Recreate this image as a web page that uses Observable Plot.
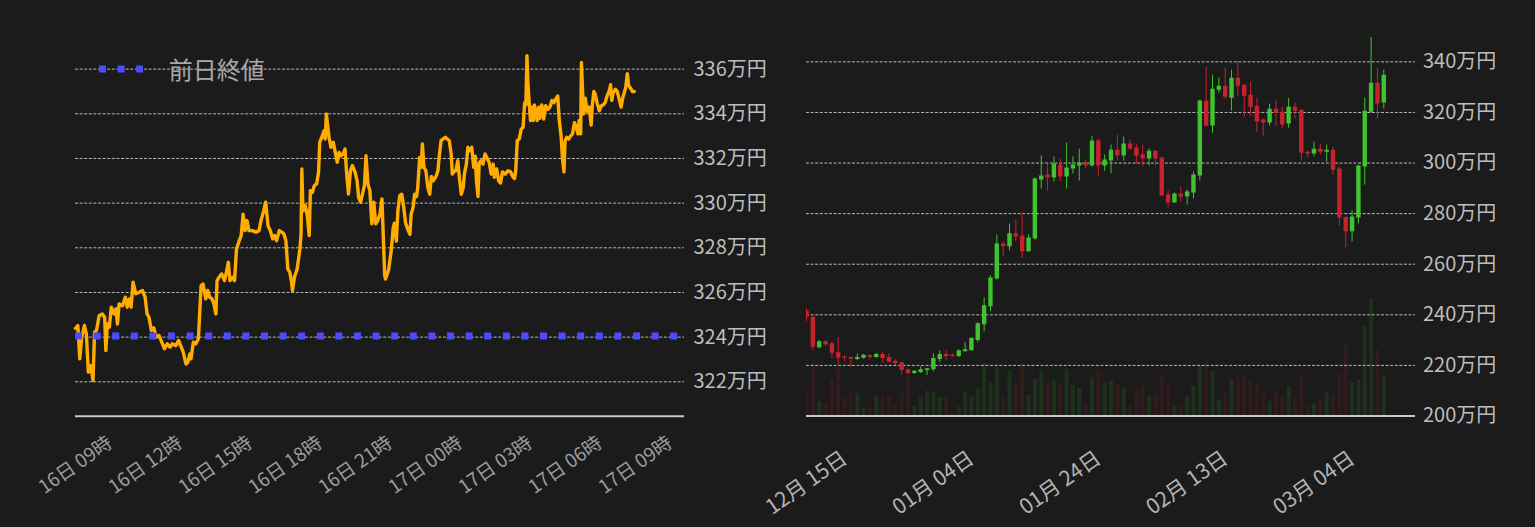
<!DOCTYPE html>
<html>
<head>
<meta charset="utf-8">
<script src="https://cdn.jsdelivr.net/npm/d3@7"></script>
<script src="https://cdn.jsdelivr.net/npm/@observablehq/plot@0.6"></script>
<style>
html, body { margin: 0; padding: 0; background: #1b1b1b; }
#wrap { position: relative; width: 1535px; height: 527px; overflow: hidden; font-family: "Noto Sans CJK JP", "Noto Sans", sans-serif; }
#left, #right { position: absolute; top: 0; }
#left { left: 0; }
#right { left: 780px; }
#legend { position: absolute; left: 98.7px; top: 54px; height: 30px; display: flex; align-items: center; }
#legend span { margin-left: 26px; font-size: 24px; color: #a8a8a8; line-height: 30px; }
</style>
</head>
<body>
<div id="wrap">
  <div id="left"></div>
  <div id="right"></div>
  <div id="legend"><svg width="44" height="10"><line x1="0" x2="44" y1="5" y2="5" stroke="#4c4cff" stroke-width="7" stroke-dasharray="7,11.6"></line></svg><span>前日終値</span></div>
</div>
<script>
// ---------- Left chart: intraday price (万円) ----------
const intradayStart = Date.UTC(2024, 2, 16, 9, 0);
const intradayMinutes = [
  0,3,6,11,16,23,28,33,39,45,
  49,54,61,69,75,78,82,87,92,99,
  104,108,112,121,128,133,138,143,148,155,
  164,172,179,184,189,195,201,208,215,222,
  229,236,243,249,258,265,272,277,284,289,
  294,297,303,309,316,323,328,335,340,345,
  351,356,361,364,369,376,383,388,393,397,
  404,409,414,421,426,431,436,441,446,455,
  464,472,477,484,489,495,501,507,512,517,
  524,531,536,541,546,551,555,558,563,570,
  577,580,582,585,591,596,601,604,609,614,
  620,625,628,633,639,642,645,649,652,657,
  663,668,673,678,683,688,693,698,702,707,
  712,719,724,728,733,738,743,747,752,757,
  762,767,772,777,783,788,
  795,797,805,812,817,820,825,829,834,839,
  844,849,855,860,863,868,872,877,880,885,
  889,892,896,901,906,911,915,920,927,932,
  935,940,945,951,956,961,966,969,973,978,
  983,988,992,997,1000,1005,1009,1014,1019,1024,
  1028,1031,1035,1038,1043,1048,1053,1059,1064,1069,
  1074,1077,1083,1088,1093,1098,1105,1112,1119,1124,
  1129,1132,1136,1141,1146,1151,1155,1158,1161,1163,
  1167,1170,1173,1177,1180,1184,1187,1191,1194,1199,
  1204,1209,1215,1220,1225,1230,1235,1240,1244,1249,
  1252,1256,1259,1263,1268,1273,1278,1283,1288,1292,
  1295,1299,1301,1304,1307,1311,1314,1317,1321,1326,
  1329,1333,1336,1341,1347,1352,1357,1362,1367,1372,
  1376,1379,1382,1388,1393,1398,1403,1407,1412,1415,
  1419,1422,1425,1429,1432,1437
];
const intradayPrice = [
  324.4,324.45,324.52,323.03,324.0,324.52,324.15,322.43,322.73,322.06,
  324.22,324.3,324.97,325.04,324.89,323.4,324.59,324.45,325.34,325.04,
  325.27,324.59,325.49,325.41,325.79,325.34,325.71,325.34,326.46,325.94,
  326.01,326.09,325.79,325.04,324.89,324.3,324.42,324.0,324.07,323.77,
  323.48,323.7,323.55,323.7,323.62,323.85,323.55,323.33,322.8,322.88,
  323.25,323.03,323.77,323.7,323.92,326.31,326.38,325.71,326.09,325.79,
  325.71,325.49,325.04,326.53,326.68,326.83,326.53,326.91,327.35,326.53,
  326.68,326.53,327.95,328.32,328.55,329.51,328.77,329.22,328.77,328.77,
  328.7,328.77,329.22,329.66,330.04,328.99,328.77,328.4,328.55,328.32,
  328.77,328.7,328.62,328.32,327.05,326.91,326.53,326.09,326.68,327.05,
  327.95,328.62,331.53,329.66,329.89,329.44,328.55,330.56,330.48,330.78,
  330.86,331.38,332.72,332.94,333.24,332.87,333.99,333.39,332.94,332.5,
  332.72,332.27,331.83,332.27,332.12,332.2,332.42,331.15,330.41,331.45,
  331.68,331.38,331.01,330.26,330.04,330.41,330.78,332.12,330.86,330.56,
  329.07,330.04,329.07,329.22,329.51,330.19,
  326.8,326.6,327.0,327.9,328.9,329.1,328.3,329.67,330.34,330.4,
  329.8,329.1,328.8,328.6,329.5,329.8,330.4,330.3,330.7,332.05,
  331.6,332.65,331.6,331.45,330.7,330.4,331.2,331.0,331.2,331.45,
  332.05,332.8,332.87,332.95,332.87,332.8,332.2,331.3,331.4,331.45,
  331.9,331.0,330.4,330.7,331.3,331.75,332.5,332.35,332.5,331.6,
  332.1,331.0,330.3,331.8,331.9,331.75,332.2,332.0,331.8,331.3,
  331.75,331.16,331.53,331.0,330.9,331.4,331.3,331.45,331.4,331.2,
  331.1,331.45,332.8,332.87,333.3,333.4,334.5,334.4,336.6,335.5,
  334.4,333.7,334.3,333.7,334.4,334.1,333.7,334.3,333.8,334.4,
  333.77,334.36,334.2,334.3,334.6,334.5,334.66,334.8,333.7,332.95,
  332.05,331.4,332.8,332.95,332.87,333.0,333.1,333.6,333.4,333.1,
  333.7,333.1,336.3,335.0,334.0,334.7,334.3,334.1,334.3,333.5,
  334.4,335.0,334.9,334.5,334.14,334.36,334.4,334.5,334.8,335.0,
  335.3,334.6,334.9,335.1,335.0,334.66,334.3,334.7,335.0,335.2,
  335.8,335.3,335.2,335.1,335.0,335.0
];
const previousClose = 324.05;
const leftYTicks = [322, 324, 326, 328, 330, 332, 334, 336];
const leftXTickHours = [0, 3, 6, 9, 12, 15, 18, 21, 24];
const leftXTickLabels = ["16日 09時","16日 12時","16日 15時","16日 18時","16日 21時","17日 00時","17日 03時","17日 06時","17日 09時"];
const leftYDomain = [320.46, 337.73];
const leftXSpanHours = 26.1;

// ---------- Right chart: daily candles (万円) and volume ----------
const candleDates = [
  "2023-12-15","2023-12-16","2023-12-17","2023-12-18","2023-12-19","2023-12-20","2023-12-21","2023-12-22","2023-12-23","2023-12-24",
  "2023-12-25","2023-12-26","2023-12-27","2023-12-28","2023-12-29","2023-12-30","2023-12-31","2024-01-01","2024-01-02","2024-01-03",
  "2024-01-04","2024-01-05","2024-01-06","2024-01-07","2024-01-08","2024-01-09","2024-01-10","2024-01-11","2024-01-12","2024-01-13",
  "2024-01-14","2024-01-15","2024-01-16","2024-01-17","2024-01-18","2024-01-19","2024-01-20","2024-01-21","2024-01-22","2024-01-23",
  "2024-01-24","2024-01-25","2024-01-26","2024-01-27","2024-01-28","2024-01-29","2024-01-30","2024-01-31","2024-02-01","2024-02-02",
  "2024-02-03","2024-02-04","2024-02-05","2024-02-06","2024-02-07","2024-02-08","2024-02-09","2024-02-10","2024-02-11","2024-02-12",
  "2024-02-13","2024-02-14","2024-02-15","2024-02-16","2024-02-17","2024-02-18","2024-02-19","2024-02-20","2024-02-21","2024-02-22",
  "2024-02-23","2024-02-24","2024-02-25","2024-02-26","2024-02-27","2024-02-28","2024-02-29","2024-03-01","2024-03-02","2024-03-03",
  "2024-03-04","2024-03-05","2024-03-06","2024-03-07","2024-03-08","2024-03-09","2024-03-10","2024-03-11","2024-03-12","2024-03-13",
  "2024-03-14","2024-03-15"
];
const candleOpen = [
  241.5,238.9,227.0,229.4,228.6,225.0,223.3,223.1,222.3,222.8,
  223.9,223.1,224.3,223.1,221.6,221.1,218.3,216.8,217.2,218.0,
  218.3,222.3,224.3,224.0,223.5,225.4,225.8,229.8,236.1,243.2,
  254.2,268.0,266.9,272.0,271.2,264.9,270.0,293.3,295.3,294.1,
  299.2,294.5,297.6,298.8,300.0,298.8,308.7,298.8,300.8,305.1,
  302.8,307.5,305.9,303.2,301.6,304.7,302.0,287.4,284.2,287.8,
  286.6,288.2,294.9,324.5,314.6,328.8,330.4,325.6,333.5,330.8,
  326.8,322.5,317.0,315.8,321.3,320.1,315.4,322.1,320.9,304.3,
  303.6,305.5,304.3,305.1,297.6,278.5,272.8,278.3,298.4,320.1,
  331.5,323.7
];
const candleHigh = [
  242.4,239.9,229.8,229.8,229.1,231.0,223.9,223.2,224.5,224.3,
  224.0,224.8,225.0,224.6,222.3,221.2,218.4,217.9,219.5,218.8,
  224.6,225.8,225.8,224.6,226.2,229.0,231.0,236.9,246.7,255.4,
  271.6,268.8,275.9,277.5,280.3,271.6,294.1,302.8,299.5,302.4,
  301.6,307.9,302.4,305.5,301.2,310.6,309.5,303.2,307.1,311.0,
  310.3,309.1,307.5,307.1,305.5,304.8,302.4,289.0,288.2,290.5,
  289.4,296.5,324.9,337.9,334.7,333.5,337.5,336.7,340.2,330.9,
  332.0,325.6,317.4,323.3,324.9,322.1,325.6,323.7,321.0,304.7,
  308.3,307.5,307.1,306.3,298.4,278.7,281.1,299.2,325.6,349.7,
  337.5,336.7
];
const candleLow = [
  237.4,225.8,226.6,227.5,222.8,220.3,221.5,219.1,221.9,222.5,
  222.3,222.8,220.7,221.0,220.0,216.0,216.4,216.4,216.8,216.0,
  217.6,221.1,221.9,223.1,223.1,225.3,225.7,229.0,233.3,241.2,
  253.8,262.9,265.3,268.8,262.3,264.8,269.5,289.7,289.0,292.5,
  292.5,289.7,295.7,292.9,297.6,298.4,294.9,296.8,295.7,300.8,
  300.8,305.1,299.6,298.4,298.8,298.8,286.6,282.3,284.1,284.6,
  283.4,285.8,292.9,314.2,311.8,327.6,325.2,320.5,326.4,318.1,
  318.5,312.2,310.6,314.6,314.6,313.4,313.8,317.4,300.8,302.0,
  302.4,303.2,300.4,295.3,275.1,266.5,268.8,275.9,291.3,319.7,
  317.4,321.3
];
const candleClose = [
  239.0,227.2,229.4,228.2,224.8,222.8,222.9,222.4,223.1,224.0,
  223.1,224.3,222.7,221.2,220.7,218.0,216.8,217.7,218.3,218.7,
  222.7,224.3,223.5,223.5,225.8,226.2,230.6,236.5,243.6,254.6,
  268.0,266.9,272.0,270.8,264.9,270.4,293.7,294.9,294.1,299.5,
  294.5,298.0,299.2,300.0,298.8,308.7,298.8,301.2,305.1,302.8,
  307.5,305.5,302.8,301.6,304.7,301.6,287.0,284.2,287.8,286.6,
  288.6,295.3,324.5,314.6,329.2,330.4,326.0,333.5,330.4,326.4,
  322.1,316.2,315.8,321.3,319.7,315.0,322.1,320.5,303.9,303.6,
  305.5,304.3,305.1,297.2,278.3,272.8,278.7,298.8,320.5,331.5,
  323.3,334.7
];
const candleVolume = [
  25.5,54.5,14.5,13.5,35.5,48.5,17.5,24.5,22.5,7.5,
  8.5,19.5,19.5,20.5,10.5,22.5,42.5,9.5,18.5,24.5,
  23.5,18.5,20.5,3.5,8.5,23.5,19.5,27.5,52.5,32.5,
  48.5,18.5,44.5,32.5,52.5,20.5,36.5,43.5,33.5,35.5,
  31.5,46.5,30.5,27.5,10.5,38.5,45.5,32.5,34.5,31.5,
  28.5,9.5,27.5,29.5,20.5,21.5,39.5,29.5,10.5,10.5,
  19.5,29.5,50.5,54.5,44.5,15.5,22.5,36.5,38.5,38.5,
  35.5,31.5,21.5,14.5,23.5,20.5,29.5,17.5,39.5,9.5,
  11.5,16.5,23.5,21.5,41.5,70.5,33.5,35.5,89.5,117.5,
  65.5,40.5
];
const rightYTicks = [200, 220, 240, 260, 280, 300, 320, 340];
const rightXTickDates = ["2023-12-15","2024-01-04","2024-01-24","2024-02-13","2024-03-04"];
const rightXTickLabels = ["12月 15日","01月 04日","01月 24日","02月 13日","03月 04日"];
const rightXDomain = ["2023-12-15", "2024-03-20"];
const rightYDomain = [200, 352.4];
const volumeBandHeight = 46.4; // price units taken by the largest volume bar

// ---------- build ----------
const FONT = '"Noto Sans CJK JP", "Noto Sans", sans-serif';
const GREEN = "#3fc42f", RED = "#c9212d";
const GRID = {stroke: "#b8b8b8", strokeWidth: 1, strokeDasharray: "3,1.6"};

const intraday = intradayMinutes.map((m, i) => ({t: new Date(intradayStart + m * 60000), v: intradayPrice[i]}));
const leftTicks = leftXTickHours.map((h, i) => ({t: new Date(intradayStart + h * 3600000), label: leftXTickLabels[i]}));

const left = Plot.plot({
  width: 780, height: 527,
  marginLeft: 75, marginRight: 96, marginTop: 30, marginBottom: 111.3,
  style: {background: "transparent", fontFamily: FONT, overflow: "visible"},
  x: {type: "utc", domain: [new Date(intradayStart), new Date(intradayStart + leftXSpanHours * 3600000)], axis: null},
  y: {domain: leftYDomain, axis: null},
  marks: [
    Plot.ruleY(leftYTicks, GRID),
    Plot.line(intraday, {x: "t", y: "v", stroke: "#ffab00", strokeWidth: 3.4, strokeLinejoin: "round"}),
    Plot.ruleY([previousClose], {stroke: "#4c4cff", strokeWidth: 7, strokeDasharray: "7,11.6"}),
    Plot.ruleY([leftYDomain[0]], {stroke: "#c8c8c8", strokeWidth: 2}),
    Plot.text(leftTicks, {x: "t", text: "label", frameAnchor: "bottom", dy: 49, rotate: -35,
      textAnchor: "middle", lineAnchor: "middle", fill: "#9c9c9c", fontSize: 19}),
    Plot.text(leftYTicks, {y: d => d, text: d => d + "万円", frameAnchor: "right", dx: 9,
      textAnchor: "start", fill: "#bdbdbd", fontSize: 20})
  ]
});
document.getElementById("left").append(left);

const parseDay = s => new Date(s + "T00:00:00Z");
const volK = volumeBandHeight / d3.max(candleVolume);
const candles = candleDates.map((d, i) => ({
  date: parseDay(d), o: candleOpen[i], h: candleHigh[i], l: candleLow[i], c: candleClose[i],
  vol: candleVolume[i], up: candleClose[i] >= candleOpen[i]
}));
const rightTicks = rightXTickDates.map((d, i) => ({t: parseDay(d), label: rightXTickLabels[i]}));
const col = d => d.up ? GREEN : RED;

const right = Plot.plot({
  width: 755, height: 527,
  marginLeft: 26, marginRight: 120, marginTop: 30, marginBottom: 111.5,
  style: {background: "transparent", fontFamily: FONT, overflow: "visible"},
  x: {type: "utc", domain: rightXDomain.map(parseDay), axis: null},
  y: {domain: rightYDomain, axis: null},
  marks: [
    Plot.ruleX(candles, {x: "date", y1: rightYDomain[0], y2: d => rightYDomain[0] + d.vol * volK,
      stroke: col, strokeOpacity: 0.13, strokeWidth: 4, clip: true}),
    Plot.ruleY(rightYTicks.slice(1), GRID),
    Plot.ruleX(candles, {x: "date", y1: "l", y2: "h", stroke: col, strokeWidth: 1, clip: true}),
    Plot.ruleX(candles, {x: "date", y1: "o", y2: "c", stroke: col, strokeWidth: 4.4, clip: true}),
    Plot.ruleY([rightYDomain[0]], {stroke: "#c8c8c8", strokeWidth: 2}),
    Plot.text(rightTicks, {x: "t", text: "label", frameAnchor: "bottom", dy: 67, rotate: -35,
      textAnchor: "middle", lineAnchor: "middle", fill: "#b4b4b4", fontSize: 21}),
    Plot.text(rightYTicks, {y: d => d, text: d => d + "万円", frameAnchor: "right", dx: 7.5,
      textAnchor: "start", fill: "#bdbdbd", fontSize: 20})
  ]
});
document.getElementById("right").append(right);
</script>
</body>
</html>
